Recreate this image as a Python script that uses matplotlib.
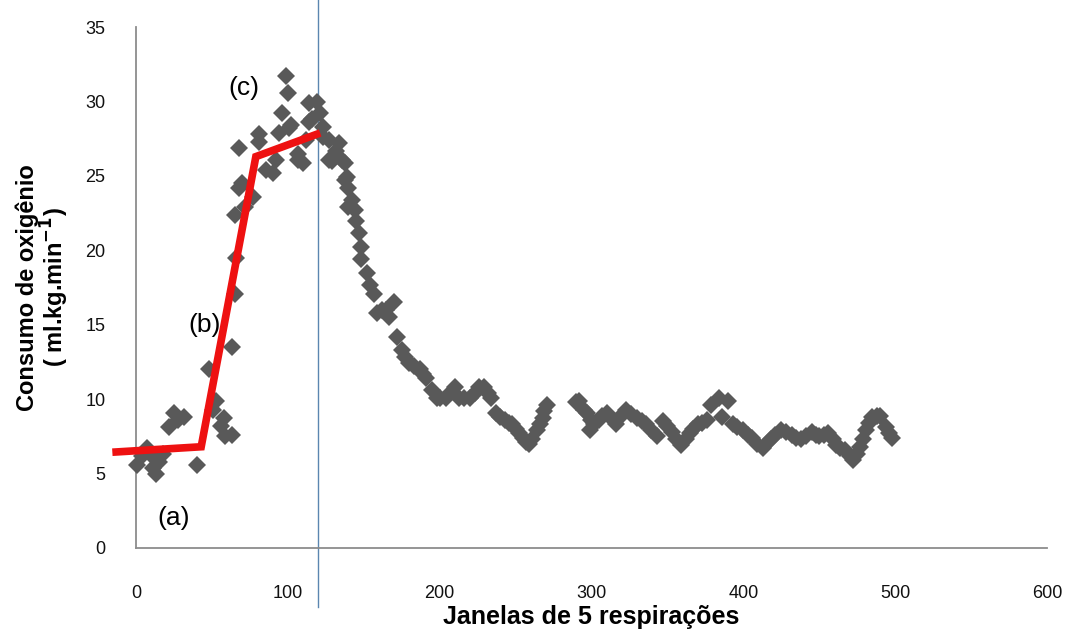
import matplotlib.pyplot as plt

plt.rcParams['font.family'] = ['Liberation Sans', 'DejaVu Sans']

# consumo de oxigenio por janela de 5 respiracoes
janela = [0.5, 4, 7, 11, 11, 13, 15, 18, 22, 25, 28, 32, 40, 48, 51, 53, 56, 58, 59, 63,
          63, 65, 66, 65, 68, 70, 72, 68, 77, 81, 81, 86, 90, 92, 94, 96, 99,
          100, 101, 102, 107, 107, 110, 112, 114, 114, 116, 119, 121, 123, 123,
          127, 127, 129, 132, 134, 136, 138, 138, 139, 140, 140, 142, 144, 145,
          147, 148, 148, 152, 154, 157, 159, 162, 165, 167, 170, 172, 175, 177,
          180, 183, 187, 189, 191, 195, 198, 200, 204, 207, 210, 213, 216, 220,
          223, 226, 229, 232, 234, 237, 240, 243, 246, 248, 250, 252, 255, 257,
          259, 261, 264, 266, 268, 269, 271,
          290, 292, 295, 297, 299, 300, 302, 305, 307, 310, 313, 316, 319, 323,
          326, 330, 333, 336, 339, 343, 347, 350, 353, 356, 359, 362, 365, 367,
          370, 373, 376, 379, 384, 386, 390, 393, 396, 400, 403, 406, 409, 413,
          415, 418, 421, 425, 428, 432, 435, 438, 441, 445, 448, 450, 453, 456,
          459, 461, 464, 467, 470, 472, 475, 477, 479, 481, 483, 485, 488, 490,
          494, 496, 498]
vo2 = [5.6, 6.2, 6.7, 6.1, 5.4, 5.0, 5.8, 6.3, 8.1, 9.1, 8.6, 8.8, 5.6, 12.0, 9.3, 9.9,
       8.2, 8.7, 7.5, 7.6, 13.5, 17.1, 19.5, 22.4, 24.2, 24.5, 22.9, 26.9, 23.6,
       27.8, 27.3, 25.4, 25.2, 26.1, 27.9, 29.2, 31.7, 30.6, 28.2, 28.4, 26.1,
       26.5, 25.9, 27.4, 29.9, 28.6, 28.8, 30.0, 29.2, 28.3, 27.6, 27.4, 26.1,
       26.0, 26.7, 27.2, 26.1, 25.9, 24.7, 24.9, 24.2, 22.9, 23.4, 22.7, 22.0,
       21.2, 20.2, 19.4, 18.5, 17.7, 17.1, 15.8, 16.0, 16.0, 15.5, 16.5, 14.2,
       13.3, 12.8, 12.4, 12.2, 12.0, 11.7, 11.4, 10.6, 10.1, 10.1, 10.1, 10.4,
       10.8, 10.1, 10.1, 10.1, 10.4, 10.8, 10.8, 10.4, 10.1, 9.1, 8.8, 8.6, 8.4,
       8.3, 8.0, 7.7, 7.4, 7.1, 7.0, 7.3, 7.9, 8.3, 8.7, 9.2, 9.6,
       9.8, 9.9, 9.3, 9.1, 7.9, 8.6, 8.3, 8.6, 8.9, 9.1, 8.7, 8.3, 8.8, 9.3,
       9.0, 8.7, 8.5, 8.3, 7.9, 7.5, 8.5, 8.2, 7.8, 7.3, 6.9, 7.3, 7.7, 8.0,
       8.3, 8.4, 8.6, 9.6, 10.1, 8.8, 9.9, 8.3, 8.1, 7.9, 7.6, 7.4, 7.0, 6.7,
       7.0, 7.3, 7.6, 7.9, 7.8, 7.6, 7.4, 7.3, 7.5, 7.8, 7.6, 7.5, 7.6, 7.7,
       7.3, 6.9, 6.7, 6.6, 6.2, 5.9, 6.3, 6.8, 7.3, 7.9, 8.4, 8.8, 8.9, 8.9,
       8.1, 7.7, 7.4]

# segmentos ajustados (a), (b), (c)
ajuste_x = [-13, 43, 79, 119]
ajuste_y = [6.45, 6.8, 26.3, 27.8]

limiar_x = 120
rotulos = ['(a)', '(b)', '(c)']
rotulos_x = [25, 45, 71]
rotulos_y = [2.0, 15.0, 30.9]

fig = plt.figure(figsize=(10.7, 6.32), dpi=100)
ax = fig.add_axes([0.127, 0.133, 0.8515, 0.824])

ax.plot(janela, vo2, linestyle='none', marker='D', markersize=9.5,
        color='#595959', markeredgewidth=0, zorder=3, clip_on=False)
ax.plot(ajuste_x, ajuste_y, color='#ee1111', linewidth=5.5, zorder=4,
        clip_on=False, solid_joinstyle='miter')
ax.plot([limiar_x, limiar_x], [-4.0, 37.0], color='#5b86b0', linewidth=1.0,
        zorder=2, clip_on=False)

for r, rx, ry in zip(rotulos, rotulos_x, rotulos_y):
    ax.text(rx, ry, r, fontsize=19, ha='center', va='center', color='black',
            zorder=5)

ax.set_xlim(0, 600)
ax.set_ylim(0, 35)
ax.set_xticks(range(0, 601, 100))
ax.set_yticks(range(0, 36, 5))
ax.tick_params(length=0, labelsize=13, colors='#111111')
ax.tick_params(axis='x', pad=27)
ax.tick_params(axis='y', pad=22)

for s in ['top', 'right']:
    ax.spines[s].set_visible(False)
for s in ['left', 'bottom']:
    ax.spines[s].set_color('#8c8c8c')
    ax.spines[s].set_linewidth(1.3)

ax.set_xlabel('Janelas de 5 respirações', fontsize=18, fontweight='bold',
              labelpad=2)
ax.set_ylabel('Consumo de oxigênio\n( ml.kg.min$^{\\mathbf{-1}}$)',
              fontsize=17, fontweight='bold', labelpad=10, linespacing=1.0)

fig.savefig('out.png', dpi=100, facecolor='white')
